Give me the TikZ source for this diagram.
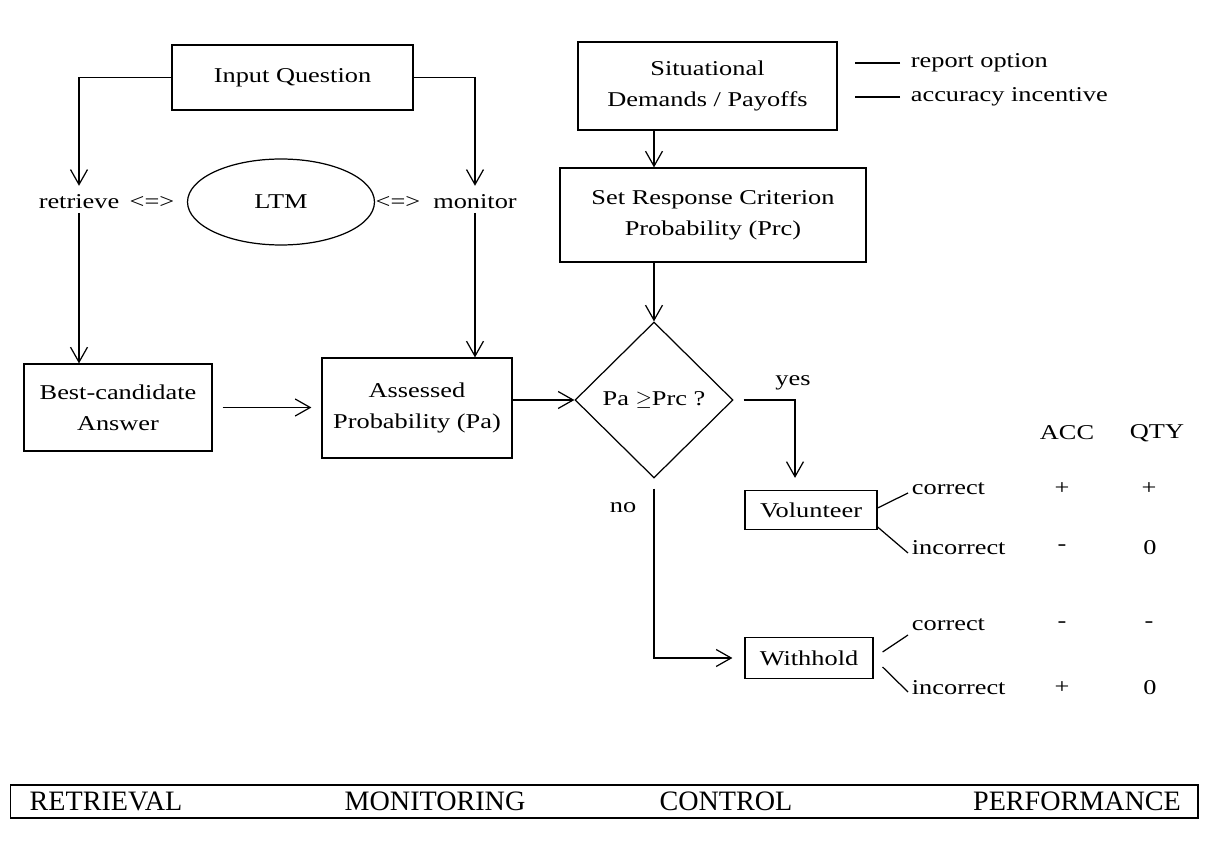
\documentclass[tikz,border=0pt]{standalone}
\usepackage{fontspec}
\setmainfont{Liberation Serif}[FakeStretch=1.25]
\newfontfamily\stagefont{Liberation Serif}
\usepackage{tikz}
\usetikzlibrary{shapes.geometric,arrows.meta,positioning}
\tikzset
{
    procbox/.style  = {rectangle, draw=black, align=center, line width=0.7pt, inner sep=2pt},
    decision/.style = {diamond, draw=black, align=center, line width=0.7pt, inner sep=0pt, minimum width=3.16cm, minimum height=3.12cm},
    memory/.style   = {ellipse, draw=black, line width=0.7pt, minimum width=3.74cm, minimum height=1.72cm},
    flow/.style     = {line width=0.7pt, -{Straight Barb[length=0.3cm, width=0.34cm]}},
    link/.style     = {line width=0.7pt},
    txt/.style      = {inner sep=2pt},
    stage/.style    = {inner sep=2pt, font=\stagefont\fontsize{16}{19}\selectfont}
}

\begin{document}
\begin{tikzpicture}[x=0.02cm, y=-0.02cm, font=\fontsize{12}{17.5}\selectfont]
\useasboundingbox (0,0) rectangle (1218,841);
% retrieval and monitoring
\node[procbox, minimum width=4.82cm, minimum height=1.3cm] (input) at (292.5,77.5) {Input Question};
\node[txt] (retr) at (79,202) {retrieve};
\node[txt] (lconn) at (152,202) {<=>};
\node[memory] (ltm) at (281,202) {LTM};
\node[txt] (rconn) at (398,202) {<=>};
\node[txt] (mon) at (475,202) {monitor};
\node[procbox, minimum width=3.76cm, minimum height=1.74cm] (best) at (118,407.5) {Best-candidate\\Answer};
\node[procbox, minimum width=3.8cm, minimum height=2cm] (assess) at (417,408) {Assessed\\Probability (Pa)};
\draw[flow, shorten >=3pt] (input.west) -| (retr.north);
\draw[flow, shorten >=3pt] (input.east) -| (mon.north);
\draw[flow] (retr.south) -- (retr.south |- best.north);
\draw[flow] (mon.south) -- (mon.south |- assess.north);
\draw[flow, shorten <=0.2cm, shorten >=0.2cm] (best.east) -- (best.east -| assess.west);
% control
\node[procbox, minimum width=5.18cm, minimum height=1.76cm] (demand) at (707.5,86) {Situational\\Demands / Payoffs};
\node[txt, anchor=west] (opt) at (907,63) {report option};
\node[txt, anchor=west] (inc) at (907,97) {accuracy incentive};
\draw[link] ([xshift=-0.14cm]opt.west) -- ++(-45,0);
\draw[link] ([xshift=-0.14cm]inc.west) -- ++(-45,0);
\node[procbox, minimum width=6.12cm, minimum height=1.88cm] (crit) at (713,215) {Set Response Criterion\\Probability (Prc)};
\node[decision] (dec) at (654,400) {Pa $\geq$Prc ?};
\draw[flow] (demand.south -| dec.north) -- (crit.north -| dec.north);
\draw[flow] (crit.south -| dec.north) -- (dec.north);
\draw[flow] (assess.east |- dec.west) -- (dec.west);
% performance
\node[procbox, minimum width=2.64cm, minimum height=0.78cm] (vol) at (811,510) {Volunteer};
\node[procbox, minimum width=2.56cm, minimum height=0.82cm] (with) at (809,658) {Withhold};
\coordinate (yesbend) at (795,400);
\draw[flow, shorten <=0.2cm, shorten >=0.24cm] (dec.east) -- (yesbend) -- (yesbend |- vol.north);
\draw[flow, shorten <=0.2cm, shorten >=0.24cm] (dec.south) |- (with.west);
\node[txt] (yes) at (793,383) {yes};
\node[txt] (no) at (623,508) {no};
\node[txt, anchor=west] (vc) at (908,489) {correct};
\node[txt, anchor=west] (vi) at (908,548) {incorrect};
\node[txt, anchor=west] (wc) at (908,625) {correct};
\node[txt, anchor=west] (wi) at (908,688) {incorrect};
\draw[link] ([yshift=0.04cm]vol.east) -- ([yshift=-0.08cm]vc.west);
\draw[link] ([yshift=-0.34cm]vol.east) -- ([yshift=-0.1cm]vi.west);
\draw[link] ([xshift=0.18cm, yshift=0.12cm]with.east) -- ([yshift=-0.2cm]wc.west);
\draw[link] ([xshift=0.18cm, yshift=-0.18cm]with.east) -- ([yshift=-0.08cm]wi.west);
% outcome table
\node[txt] (acc) at (1067,433) {ACC};
\node[txt] (qty) at (1157,433) {QTY};
\node[txt] (acc1) at (1062,489) {+};
\node[txt] (qty1) at (1149,489) {+};
\node[txt] (acc2) at (1062,548) {-};
\node[txt] (qty2) at (1150,548) {0};
\node[txt] (acc3) at (1062,625) {-};
\node[txt] (qty3) at (1149,625) {-};
\node[txt] (acc4) at (1062,688) {+};
\node[txt] (qty4) at (1150,688) {0};
% stages
\node[draw, line width=0.7pt, minimum width=23.76cm, minimum height=0.66cm] (stages) at (604,801.5) {};
\node[stage] (s1) at (106,801) {RETRIEVAL};
\node[stage] (s2) at (435,801) {MONITORING};
\node[stage] (s3) at (726,801) {CONTROL};
\node[stage] (s4) at (1077,801) {PERFORMANCE};
\end{tikzpicture}
\end{document}
